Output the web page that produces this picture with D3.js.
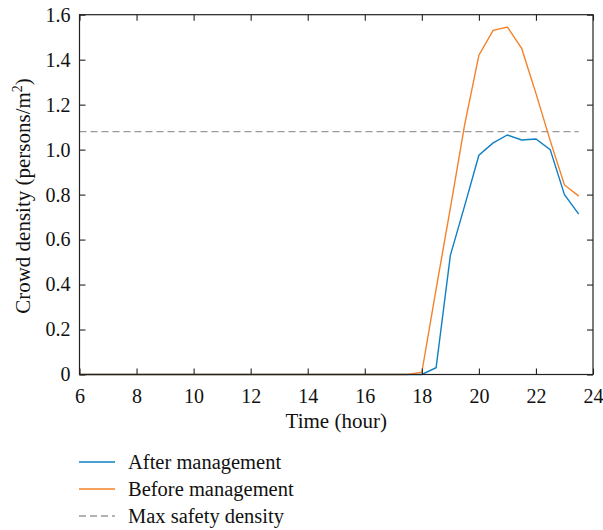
<!DOCTYPE html>
<html><head><meta charset="utf-8">
<script src="https://cdn.jsdelivr.net/npm/d3@7"></script>
<style>body{margin:0;background:#fff}svg{display:block}text{font-family:"Liberation Serif","DejaVu Serif",serif;fill:#111}</style>
</head><body><div id="chart"></div>
<script>
const hours = [6,7,8,9,10,11,12,13,14,15,16,17,17.5,18,18.5,19,19.5,20,20.5,21,21.5,22,22.5,23,23.5];
const afterMgmt  = [0,0,0,0,0,0,0,0,0,0,0,0,0,0,0.03,0.53,0.75,0.975,1.03,1.065,1.043,1.047,1.0,0.80,0.713];
const beforeMgmt = [0,0,0,0,0,0,0,0,0,0,0,0,0,0.01,0.38,0.74,1.11,1.42,1.53,1.545,1.45,1.25,1.04,0.843,0.793];
const maxSafety = 1.08;
const safetyRange = [6, 23.5];
const xTicks = [6,8,10,12,14,16,18,20,22,24];
const yTicks = [0,0.2,0.4,0.6,0.8,1.0,1.2,1.4,1.6];
const seriesNames = ["After management","Before management","Max safety density"];
const colors = {after:"#0f80c4", before:"#f5822a", safety:"#9a9a9a"};

const W=603,H=530;
const m={l:79.5,r:10,t:14.7,b:155.5};
const svg=d3.select("#chart").append("svg").attr("width",W).attr("height",H);
const x=d3.scaleLinear().domain([6,24]).range([m.l,W-m.r]);
const y=d3.scaleLinear().domain([0,1.6]).range([H-m.b,m.t]);
const x0=x.range()[0],x1=x.range()[1],y0=y.range()[0],y1=y.range()[1];

const line=d3.line().x((d,i)=>x(hours[i])).y(d=>y(d));
svg.append("line").attr("x1",x(safetyRange[0])).attr("x2",x(safetyRange[1]))
  .attr("y1",y(maxSafety)).attr("y2",y(maxSafety))
  .attr("stroke",colors.safety).attr("stroke-width",1.3).attr("stroke-dasharray","7,4");

svg.append("path").datum(afterMgmt).attr("d",line).attr("fill","none").attr("stroke",colors.after).attr("stroke-width",1.4);
svg.append("path").datum(beforeMgmt).attr("d",line).attr("fill","none").attr("stroke",colors.before).attr("stroke-width",1.4);

const tl=6;
const axB=svg.append("g").attr("transform",`translate(0,${y0})`).call(d3.axisBottom(x).tickValues(xTicks).tickSize(-tl).tickPadding(14).tickFormat(d3.format("d")));
const axT=svg.append("g").attr("transform",`translate(0,${y1})`).call(d3.axisTop(x).tickValues(xTicks).tickSize(-tl).tickFormat(""));
const axL=svg.append("g").attr("transform",`translate(${x0},0)`).call(d3.axisLeft(y).tickValues(yTicks).tickSize(-tl).tickPadding(9).tickFormat(d=>d===0?"0":d3.format(".1f")(d)));
const axR=svg.append("g").attr("transform",`translate(${x1},0)`).call(d3.axisRight(y).tickValues(yTicks).tickSize(-tl).tickFormat(""));
[axB,axT,axL,axR].forEach(g=>{g.select(".domain").remove();g.selectAll(".tick line").attr("stroke","#222").attr("stroke-width",1.1);
  g.selectAll("text").style("font-family",'"Liberation Serif",serif').style("font-size","20px").attr("fill","#111");});
svg.append("rect").attr("x",x0).attr("y",y1).attr("width",x1-x0).attr("height",y0-y1).attr("fill","none").attr("stroke","#222").attr("stroke-width",1.2);

svg.append("text").attr("x",(x0+x1)/2).attr("y",428).attr("text-anchor","middle").style("font-size","21px").text("Time (hour)");
const yl=svg.append("text").attr("transform",`translate(30,196) rotate(-90)`).attr("text-anchor","middle").style("font-size","21px");
yl.append("tspan").text("Crowd density (persons/m");
yl.append("tspan").attr("dy",-8).style("font-size","14px").text("2");
yl.append("tspan").attr("dy",8).text(")");

const leg=[{n:seriesNames[0],c:colors.after,d:null},{n:seriesNames[1],c:colors.before,d:null},{n:seriesNames[2],c:colors.safety,d:"7,4"}];
leg.forEach((l,i)=>{
  const yy=462+i*27;
  svg.append("line").attr("x1",79).attr("x2",115).attr("y1",yy).attr("y2",yy).attr("stroke",l.c).attr("stroke-width",1.4).attr("stroke-dasharray",l.d);
  svg.append("text").attr("x",128).attr("y",yy+6.5).style("font-size","20.5px").text(l.n);
});
</script></body></html>
